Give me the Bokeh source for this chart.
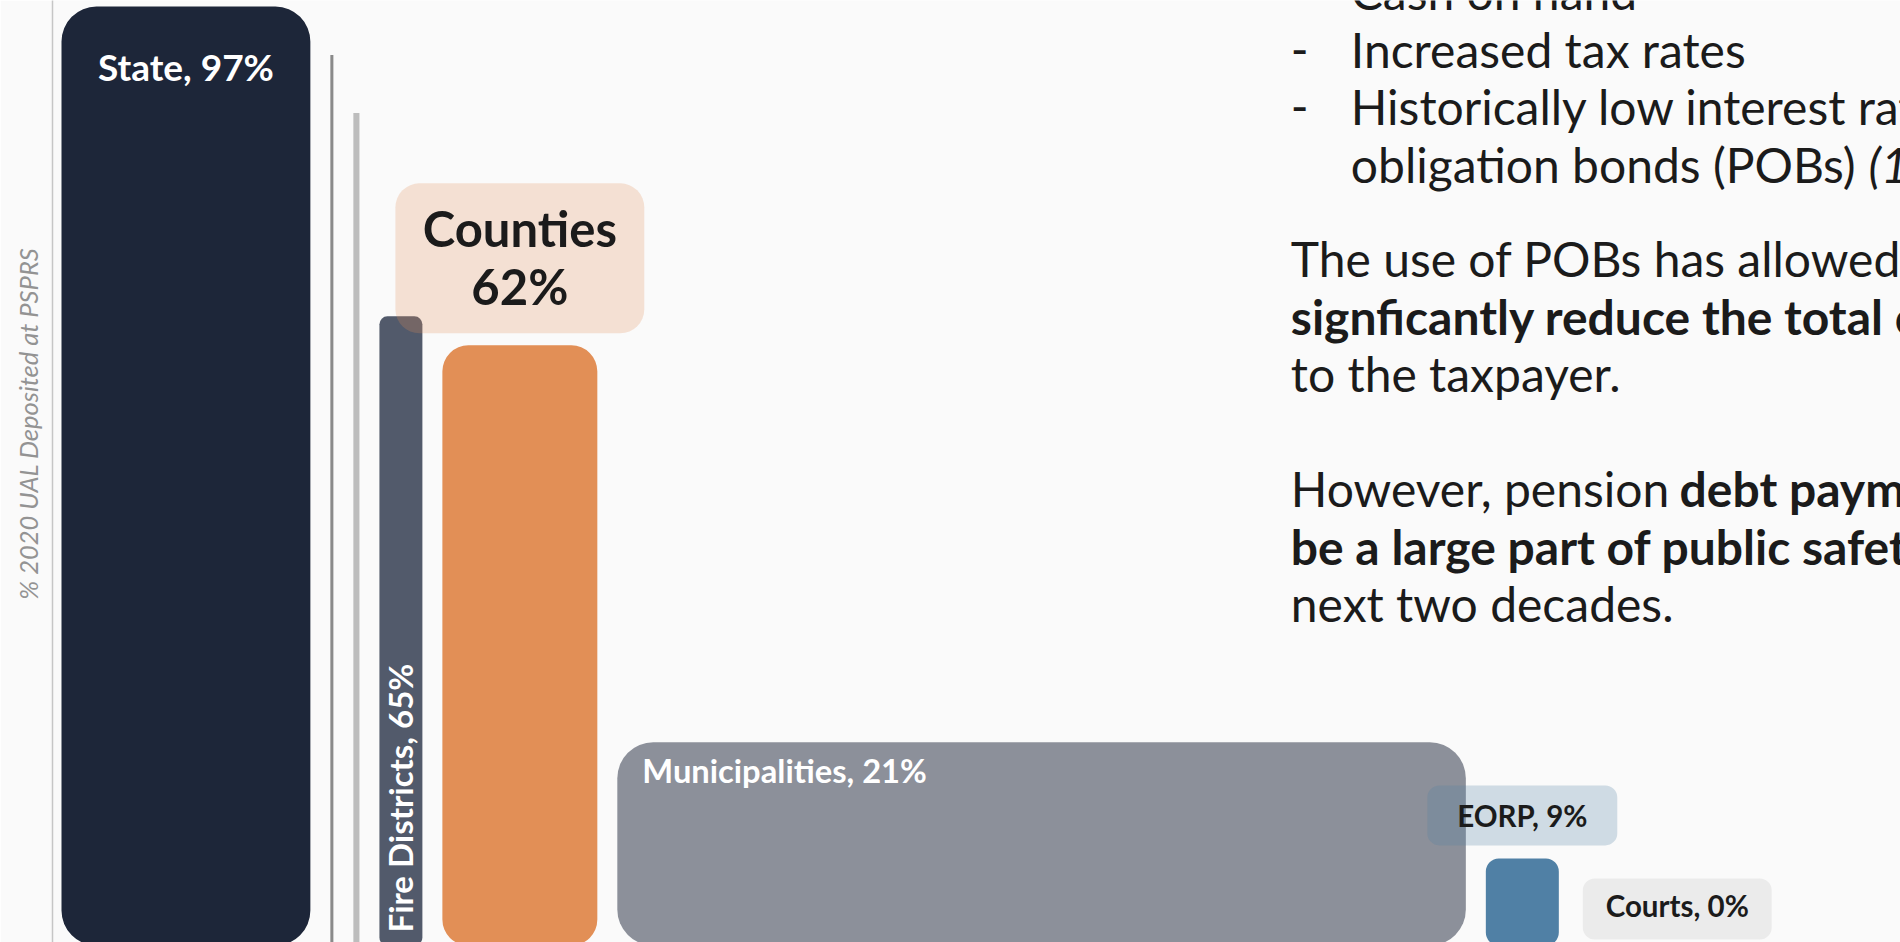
import math
from bokeh.plotting import figure
from bokeh.models import Range1d, FixedTicker, Title, ColumnDataSource
from bokeh.core.properties import value
from bokeh.embed import file_html
from bokeh.resources import INLINE

# ---------------- data ----------------
groups = ["State", "Unlabeled group A", "Unlabeled group B", "Fire Districts",
          "Counties", "Municipalities", "EORP", "Courts"]
pct_deposited = [97, 92, 86, 65, 62, 21, 9, 0]          # bar height: % 2020 UAL deposited
ual_share = [18.07, 0.22, 0.44, 3.12, 11.25, 61.61, 5.30, 0.0]  # bar width: share of UAL
y_label = "% 2020 UAL Deposited at PSPRS"

# ---------------- styles ----------------
bar_colors = ["#1d2639", "#8a8a8a", "#bdbdbd", "#525a6b", "#e28f56", "#8c909a", "#5080a5", "#8c909a"]
bar_radius = [35, 0, 0, 8, 26, 36, 13, 0]

W, H = 1900, 942
FRAME_LEFT = 51
PX_X = 13.78      # pixels per share unit
PX_Y = 9.68       # pixels per percentage point
ZERO_Y = 945      # canvas y of 0 %
LEAD = 9          # px between axis and first bar
GAP = 20          # px between bars
BASE_FIX = 0.39   # shift (in em) so the rendered alphabetic baseline lands where intended

x_start = -LEAD / PX_X
x_end = x_start + (W - FRAME_LEFT) / PX_X
y_start = (ZERO_Y - H) / PX_Y
y_end = ZERO_Y / PX_Y


def dx(px):
    return px / PX_X


def dy(px):
    return px / PX_Y


def cx(canvas_x):
    return x_start + (canvas_x - FRAME_LEFT) / PX_X


def cy(canvas_y):
    return (ZERO_Y - canvas_y) / PX_Y


def boff(off, fs):
    return off - BASE_FIX * fs


lefts, pos = [], 0.0
for w in ual_share:
    lefts.append(pos)
    pos += w + dx(GAP)
rights = [l + w for l, w in zip(lefts, ual_share)]
centers = [(l + r) / 2 for l, r in zip(lefts, rights)]

FONT = value("Lato")
INK = "#1b1b1b"

p = figure(width=W, height=H, x_range=Range1d(x_start, x_end), y_range=Range1d(y_start, y_end),
           output_backend="svg", toolbar_location=None, x_axis_location=None,
           y_axis_location="left", min_border_left=FRAME_LEFT, min_border_right=0,
           min_border_top=0, min_border_bottom=0, outline_line_color=None,
           background_fill_color="#fafafa", border_fill_color="#fafafa")
p.grid.visible = False
ya = p.yaxis[0]
ya.ticker = FixedTicker(ticks=[])
ya.major_tick_line_color = None
ya.minor_tick_line_color = None
ya.major_tick_out = 0
ya.major_tick_in = 0
ya.major_label_standoff = 0
ya.major_label_text_font_size = "0px"
ya.axis_line_color = "#c6c6c6"
ya.axis_line_width = 1.5

# y label (as a side title so it can sit above the frame centre, as in the original)
p.add_layout(Title(text=y_label, align="right", vertical_align="bottom", offset=247, standoff=20,
                   text_font="Lato", text_font_style="italic", text_font_size="25.5px",
                   text_color="#939393"), "left")

# bars
for i in range(len(groups)):
    if ual_share[i] <= 0 or pct_deposited[i] <= 0:
        continue
    p.quad(left=[lefts[i]], right=[rights[i]], bottom=[0], top=[pct_deposited[i]],
           fill_color=bar_colors[i], line_color=None, border_radius=bar_radius[i])

idx = {g: i for i, g in enumerate(groups)}

# label boxes
i = idx["Counties"]
b = pct_deposited[i] + dy(12)
p.quad(left=[centers[i] - dx(124.5)], right=[centers[i] + dx(124.5)], bottom=[b], top=[b + dy(150)],
       fill_color="#e28f56", fill_alpha=0.24, line_color=None, border_radius=24)
i = idx["EORP"]
b = pct_deposited[i] + dy(13)
p.quad(left=[centers[i] - dx(95)], right=[centers[i] + dx(95)], bottom=[b], top=[b + dy(60)],
       fill_color="#5080a5", fill_alpha=0.25, line_color=None, border_radius=12)
i = idx["Courts"]
courts_l = lefts[i] + dx(4)
courts_r = courts_l + dx(189)
b = pct_deposited[i] + dy(6)
p.quad(left=[courts_l], right=[courts_r], bottom=[b], top=[b + dy(61)],
       fill_color="#ebebeb", line_color=None, border_radius=12)


def lab(g):
    return f"{g}, {pct_deposited[idx[g]]}%"


# bar labels
i = idx["State"]
fs = 37
p.text(x=[centers[i]], y=[pct_deposited[i]], text=[lab("State")], y_offset=boff(74, fs),
       text_align="center", text_baseline="alphabetic", text_font=FONT, text_font_style="bold",
       text_font_size=f"{fs}px", text_color="white")
i = idx["Fire Districts"]
p.text(x=[centers[i]], y=[0], text=[lab("Fire Districts")], y_offset=-13, x_offset=-1,
       angle=math.pi / 2, text_align="left", text_baseline="middle", text_font=FONT,
       text_font_style="bold", text_font_size="33px", text_color="white")
i = idx["Counties"]
fs = 49
p.text(x=[centers[i], centers[i]], y=[pct_deposited[i]] * 2,
       text=["Counties", f"{pct_deposited[i]}%"], y_offset=[boff(-98, fs), boff(-40, fs)],
       text_align="center", text_baseline="alphabetic", text_font=FONT, text_font_style="bold",
       text_font_size=f"{fs}px", text_color=INK)
i = idx["Municipalities"]
fs = 32.7
p.text(x=[lefts[i]], y=[pct_deposited[i]], text=[lab("Municipalities")], x_offset=25,
       y_offset=boff(41, fs), text_align="left", text_baseline="alphabetic", text_font=FONT,
       text_font_style="bold", text_font_size=f"{fs}px", text_color="white")
i = idx["EORP"]
fs = 29.5
p.text(x=[centers[i]], y=[pct_deposited[i]], text=[lab("EORP")], y_offset=boff(-31.5, fs),
       text_align="center", text_baseline="alphabetic", text_font=FONT, text_font_style="bold",
       text_font_size=f"{fs}px", text_color=INK)
i = idx["Courts"]
p.text(x=[(courts_l + courts_r) / 2], y=[pct_deposited[i]], text=[lab("Courts")],
       y_offset=boff(-28, fs), text_align="center", text_baseline="alphabetic", text_font=FONT,
       text_font_style="bold", text_font_size=f"{fs}px", text_color=INK)

# commentary text block (canvas px positions, baselines)
TFS = 48
DASH_X, INDENT_X, PARA_X = 1290, 1350, 1290
rows = [
    (DASH_X, 10, "-", "normal"), (INDENT_X, 10, "Cash on hand", "normal"),
    (DASH_X, 67.5, "-", "normal"), (INDENT_X, 67.5, "Increased tax rates", "normal"),
    (DASH_X, 125, "-", "normal"),
    (INDENT_X, 125, "Historically low interest rates allowed pension", "normal"),
    (INDENT_X, 182.5, "obligation bonds (POBs)", "normal"),
    (1868, 182.5, "(1)", "italic"),
    (PARA_X, 277, "The use of POBs has allowed many employers to", "normal"),
    (PARA_X, 334.5, "signficantly reduce the total cost", "bold"),
    (PARA_X, 392, "to the taxpayer.", "normal"),
    (PARA_X, 507, "However, pension", "normal"),
    (1679, 507, "debt payments will continue to", "bold"),
    (PARA_X, 564.5, "be a large part of public safety budgets over the", "bold"),
    (PARA_X, 622, "next two decades.", "normal"),
]
src = ColumnDataSource(dict(x=[cx(r[0]) for r in rows],
                            y=[cy(r[1] - BASE_FIX * TFS) for r in rows],
                            text=[r[2] for r in rows], style=[r[3] for r in rows]))
p.text(x="x", y="y", text="text", source=src, text_font=FONT, text_font_style="style",
       text_font_size=f"{TFS}px", text_color=INK, text_align="left", text_baseline="alphabetic")

open("out.html", "w").write(file_html(p, INLINE))
